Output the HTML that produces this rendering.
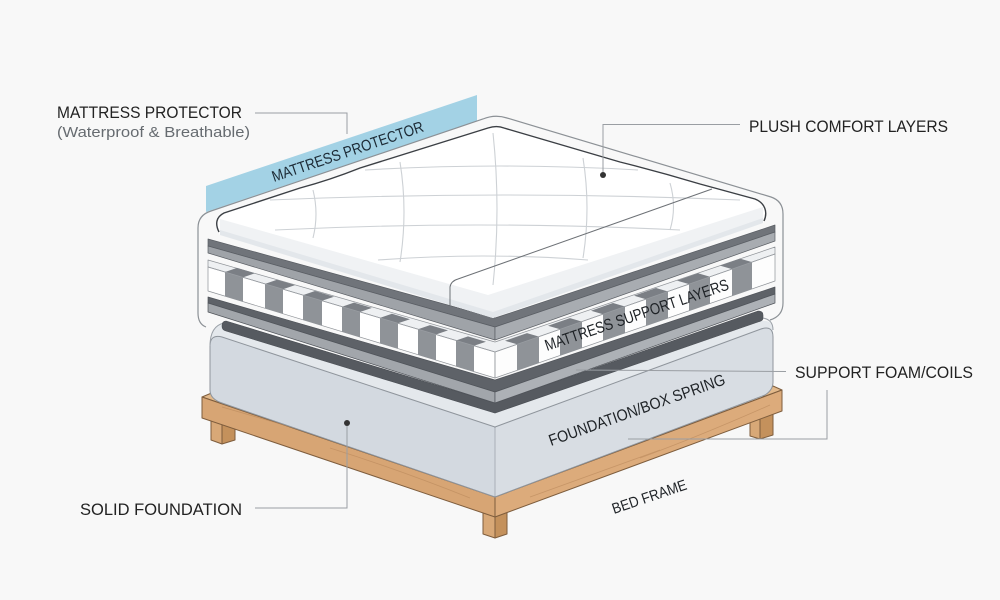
<!DOCTYPE html>
<html><head><meta charset="utf-8"><style>
html,body{margin:0;padding:0;background:#f8f8f8;}
svg{display:block;}
text{font-family:"Liberation Sans",Arial,sans-serif;}
</style></head><body>
<svg width="1000" height="600" viewBox="0 0 1000 600" xmlns="http://www.w3.org/2000/svg">
<rect width="1000" height="600" fill="#f8f8f8"/>

<!-- protector blue band -->
<polygon points="206,186 477,95 477,121 206,212" fill="#a3d2e5"/>
<text transform="translate(274,182) rotate(-18.7)" font-size="15.5" fill="#1c2a35" textLength="159" lengthAdjust="spacingAndGlyphs">MATTRESS PROTECTOR</text>

<!-- protector outline -->
<path d="M206,327 Q198,324 198,313 L198,228 Q198,215 211,211 L483,119 Q495,114 507,118 L771,197 Q783,201 783,214 L783,303 Q783,316 770,320" fill="none" stroke="#8c9196" stroke-width="1.2"/>

<!-- legs -->
<g stroke="#7e5d3d" stroke-width="1" stroke-linejoin="round">
<polygon points="211,415 222,419 222,444 211,440" fill="#d8a877"/>
<polygon points="222,419 235,415 235,440 222,444" fill="#c4915c"/>
<polygon points="483,510 495,514 495,538 483,534" fill="#d8a877"/>
<polygon points="495,514 507,510 507,534 495,538" fill="#c4915c"/>
<polygon points="750,414 760,418 760,439 750,436" fill="#d8a877"/>
<polygon points="760,418 773,414 773,435 760,439" fill="#c4915c"/>
</g>

<!-- wood frame -->
<g stroke="#7e5d3d" stroke-width="1" stroke-linejoin="round">
<polygon points="202,397 214,392 226,405 495,497 760,400 773,386 782,390 495,497" fill="#e2b98b"/>
<polygon points="202,397 495,497 495,517 202,418" fill="#d7a574"/>
<polygon points="495,497 782,390 782,411 495,517" fill="#dcab7b"/>
</g>
<g stroke="#b8875a" stroke-width="0.8" fill="none" opacity="0.6">
<path d="M222,407 Q300,430 370,450"/>
<path d="M330,448 Q400,470 470,498"/>
<path d="M530,497 Q600,472 660,450"/>
<path d="M640,458 Q700,436 770,405"/>
</g>

<!-- foundation -->
<path d="M210,346 Q210,326 224,323 L495,413 L762,321 Q773,320 773,330 L773,337 L495,427 L210,346 Z" fill="#e4e8ec"/>
<path d="M210,346 Q210,334 222,337 L495,427 L495,497 L222,403 Q210,399 210,390 Z" fill="#d3d9e0" stroke="#8f959c" stroke-width="1"/>
<path d="M495,427 L761,329 Q773,325 773,337 L773,382 Q773,390 765,395 L495,497 Z" fill="#d8dde3" stroke="#8f959c" stroke-width="1"/>
<path d="M210,346 Q210,326 224,323" fill="none" stroke="#9aa0a7" stroke-width="1"/>
<path d="M762,318 Q773,319 773,330" fill="none" stroke="#9aa0a7" stroke-width="1"/>
<line x1="495" y1="428" x2="495" y2="496" stroke="#aab0b7" stroke-width="1"/>

<!-- slab C (dark on foundation) -->
<path d="M226,321 L495,403 L758,311 Q763,311 763,315 L763,318 Q763,321 758,322 L495,413 L226,331 Q222,330 222,326 Q222,321 226,321 Z" fill="#565a60" stroke="#4a4e54" stroke-width="0.6"/>

<!-- slab B -->
<g stroke="#50545a" stroke-width="0.7" stroke-linejoin="round">
<polygon points="208,297 495,380 775,287 775,294 495,392 208,303" fill="#5e6268"/>
<polygon points="208,303 495,392 495,403 208,312" fill="#a2a6ab"/>
<polygon points="495,392 775,294 775,303 495,403" fill="#adb1b6"/>
</g>

<!-- coil layer -->
<g stroke="#8e9297" stroke-width="0.7" stroke-linejoin="round">
<polygon points="208,260 495,342 775,247 775,254 495,352 208,267" fill="#eef0f2"/>
<polygon points="208,267 495,352 495,378 208,291" fill="#ffffff"/>
<polygon points="495,352 775,254 775,281 495,378" fill="#fdfdfd"/>
</g>
<g fill="#8f9398">
<polygon points="225,272 243,277.4 243,301.6 225,296.2"/>
<polygon points="265,283.9 283,289.2 283,313.7 265,308.3"/>
<polygon points="303,295.1 322,300.8 322,325.6 303,319.8"/>
<polygon points="342,306.7 360,312 360,337.1 342,331.6"/>
<polygon points="380,317.9 398,323.3 398,348.6 380,343.1"/>
<polygon points="418,329.2 436,334.5 436,360.1 418,354.7"/>
<polygon points="456,340.5 474,345.8 474,371.6 456,366.2"/>
<polygon points="517,344.3 539,336.6 539,362.8 517,370.4"/>
<polygon points="560,329.3 582,321.6 582,347.9 560,355.5"/>
<polygon points="603,314.2 625,306.5 625,333 603,340.6"/>
<polygon points="646,299.2 668,291.5 668,318.1 646,325.7"/>
<polygon points="689,284.1 710,276.8 710,303.5 689,310.8"/>
<polygon points="732,269.1 752,262.1 752,289 732,295.9"/>
</g>
<g fill="#7b7f85">
<polygon points="225,272 243,277.4 255,273.3 237,267.9"/>
<polygon points="265,283.9 283,289.2 295,285.1 277,279.8"/>
<polygon points="303,295.1 322,300.8 334,296.7 315,291"/>
<polygon points="342,306.7 360,312 372,307.9 354,302.6"/>
<polygon points="380,317.9 398,323.3 410,319.2 392,313.8"/>
<polygon points="418,329.2 436,334.5 448,330.4 430,325.1"/>
<polygon points="456,340.5 474,345.8 486,341.7 468,336.4"/>
<polygon points="517,344.3 539,336.6 527,333.1 505,340.8"/>
<polygon points="560,329.3 582,321.6 570,318.1 548,325.8"/>
<polygon points="603,314.2 625,306.5 613,303 591,310.7"/>
<polygon points="646,299.2 668,291.5 656,288 634,295.7"/>
<polygon points="689,284.1 710,276.8 698,273.3 677,280.6"/>
<polygon points="732,269.1 752,262.1 740,258.6 720,265.6"/>
</g>
<polyline points="208,267 495,352 775,254" fill="none" stroke="#9a9ea3" stroke-width="0.7"/>
<line x1="495" y1="352" x2="495" y2="378" stroke="#9a9ea3" stroke-width="0.7"/>

<!-- slab A -->
<g stroke="#5a5e64" stroke-width="0.7" stroke-linejoin="round">
<polygon points="208,239 495,318 775,225 775,232 495,327 208,246" fill="#70747a"/>
<polygon points="208,246 495,327 495,340 208,253" fill="#9fa3a8"/>
<polygon points="495,327 775,232 775,241 495,340" fill="#a8acb1"/>
</g>

<!-- pillow / comfort layer -->
<path d="M220,235 C216,228 216,219 224,214 L488,128 C494,125 500,125 506,128 L755,200 C766,204 767,215 763,223 L493,318 Z" fill="#ffffff"/>
<polygon points="220,219 488,295 763,207 763,223 493,318 220,235" fill="#f0f2f4"/>
<polygon points="220,230 493,312 763,218 763,223 493,318 220,235" fill="#e3e7eb"/>
<g fill="none" stroke="#cdd1d5" stroke-width="1.1">
<path d="M313,190 Q319,214 313,238"/>
<path d="M400,162 Q408,212 400,262"/>
<path d="M493,133 Q501,209 493,285"/>
<path d="M583,158 Q591,208 583,258"/>
<path d="M670,183 Q677,207 670,230"/>
<path d="M365,170 Q500,162 638,170"/>
<path d="M270,200 Q505,190 740,200"/>
<path d="M275,230 Q478,220 680,230"/>
<path d="M378,260 Q483,252 588,260"/>
</g>
<path d="M450,306 L450,287 Q451,281 458,279 L712,189" fill="none" stroke="#6d7176" stroke-width="1"/>
<path d="M219,232 C215,224 216,217 224,213 L300,188 Q330,180 360,168 L488,128 C494,126 499,126 504,128 L620,162 Q660,172 700,184 L755,199 C765,203 768,212 764,221" fill="none" stroke="#3b3f44" stroke-width="1.4"/>

<!-- on-diagram labels -->
<text transform="translate(547,351) rotate(-18.7)" font-size="16" fill="#1e2226" textLength="193" lengthAdjust="spacingAndGlyphs">MATTRESS SUPPORT LAYERS</text>
<text transform="translate(551,446) rotate(-19.5)" font-size="16" fill="#1e2226" textLength="186" lengthAdjust="spacingAndGlyphs">FOUNDATION/BOX SPRING</text>
<text transform="translate(614,514) rotate(-18.7)" font-size="15" fill="#1e2226" textLength="78" lengthAdjust="spacingAndGlyphs">BED FRAME</text>

<!-- leader lines -->
<g fill="none" stroke="#9a9ea3" stroke-width="1">
<polyline points="255,113 347,113 347,134"/>
<polyline points="740,124.5 603,124.5 603,175"/>
<line x1="576" y1="370" x2="786" y2="371.5"/>
<polyline points="628,439 827,439 827,390"/>
<polyline points="255,508 347,508 347,423"/>
</g>
<circle cx="603" cy="175" r="3" fill="#333"/>
<circle cx="347" cy="423" r="3" fill="#333"/>

<!-- side labels -->
<text x="57" y="118" font-size="17" fill="#222" textLength="185" lengthAdjust="spacingAndGlyphs">MATTRESS PROTECTOR</text>
<text x="57" y="137" font-size="15" fill="#666b70" textLength="193" lengthAdjust="spacingAndGlyphs">(Waterproof &amp; Breathable)</text>
<text x="749" y="132" font-size="17" fill="#222" textLength="199" lengthAdjust="spacingAndGlyphs">PLUSH COMFORT LAYERS</text>
<text x="795" y="378" font-size="17" fill="#222" textLength="178" lengthAdjust="spacingAndGlyphs">SUPPORT FOAM/COILS</text>
<text x="80" y="515" font-size="17" fill="#222" textLength="162" lengthAdjust="spacingAndGlyphs">SOLID FOUNDATION</text>
</svg>
</body></html>
